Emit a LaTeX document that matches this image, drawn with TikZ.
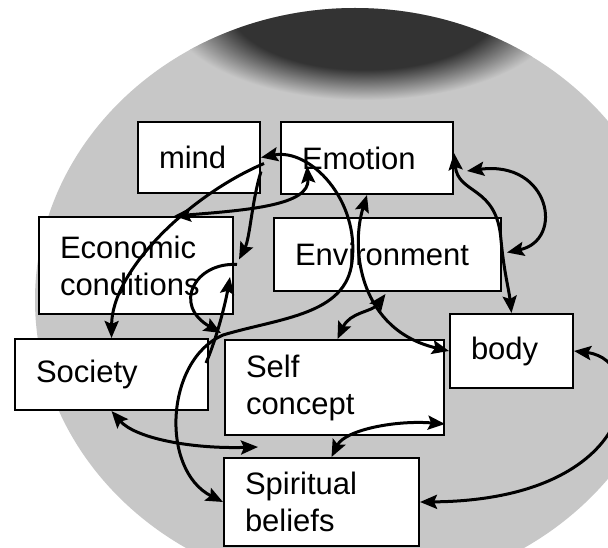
\documentclass[tikz,border=0pt]{standalone}
\usepackage{fontspec}
\setmainfont{Liberation Sans}
\usetikzlibrary{arrows.meta,calc}
\newcommand{\boxfont}{\fontsize{31}{37}\selectfont}
\colorlet{capdark}{black!80}
\colorlet{globegray}{black!22}
\pgfdeclareradialshading{cap}{\pgfpoint{0bp}{0bp}}{color(0bp)=(capdark); color(17bp)=(capdark); color(25bp)=(globegray); color(50bp)=(globegray)}

\begin{document}
\begin{tikzpicture}[x=1pt,y=-1pt,
  cbox/.style={draw,fill=white,line width=2pt,anchor=north west,inner xsep=21pt,inner ysep=0pt,align=left,font=\boxfont},
  link/.style={line width=3pt,>={Stealth[length=17pt,width=14pt,inset=3pt]}},
  globe/.style={fill=globegray}]
\useasboundingbox (0,0) rectangle (608,548);
% background globe
\begin{scope}
  \clip (0,0) rectangle (608,548);
  \fill[white] (0,0) rectangle (608,548);
  \fill[globe] (355,300) ellipse [x radius=320pt,y radius=292pt];
  \clip (355,300) ellipse [x radius=320pt,y radius=292pt];
  \shade[shading=cap] (365,5) ellipse [x radius=200pt,y radius=95pt];
\end{scope}

\node[cbox,text width=80pt,minimum width=122pt,minimum height=71pt] (mind) at (137,121) {mind};
\node[cbox,text width=130pt,minimum width=172pt,minimum height=72pt] (emo) at (280,121) {Emotion};
\node[cbox,text width=152pt,minimum width=194pt,minimum height=97pt] (econ) at (38,216) {Economic\\conditions};
\node[cbox,text width=185pt,minimum width=227pt,minimum height=73pt] (env) at (273,217) {Environment};
\node[cbox,text width=81pt,minimum width=123pt,minimum height=74pt] (body) at (449,313) {body};
\node[cbox,text width=151pt,minimum width=193pt,minimum height=71pt] (soc) at (14,338) {Society};
\node[cbox,text width=177pt,minimum width=219pt,minimum height=95pt] (self) at (224,339) {Self\\concept};
\node[cbox,text width=153pt,minimum width=195pt,minimum height=88pt] (spirit) at (223,457) {Spiritual\\beliefs};

\coordinate (sp-top) at ($(spirit.north west)+(35,-10)$);

\draw[link,<->] (body.east) .. controls (650,360) and (640,500) .. (spirit.east);
\draw[link,<->] ($(self.south east)+(0,-12)$) .. controls (395,420) and (345,430) .. ($(spirit.north)+(10,0)$);
\draw[link,<->] (soc.south) .. controls (135,438) and (190,449) .. (sp-top);
\draw[link,<->] (mind.east) .. controls (310,148) and (360,200) .. (352,262)
  .. controls (346,315) and (280,318) .. (223,335)
  .. controls (165,360) and (160,470) .. (spirit.west);
\draw[link,<->] ($(econ.north)+(38,0)$) .. controls (250,210) and (310,205) .. ($(emo.west)+(27,8)$);
\draw[link,->] ($(mind.east)+(3,6)$) .. controls (190,195) and (112,270) .. (soc.north);
\draw[link,->] ($(mind.east)+(0,14)$) .. controls (252,200) and (250,238) .. ($(econ.east)+(5,-6)$);
\draw[link,->] ($(econ.east)+(3,-1)$) .. controls (195,262) and (172,305) .. ($(self.north west)+(-3,-6)$);
\draw[link,->] ($(soc.north east)+(-3,25)$) .. controls (218,335) and (226,300) .. ($(econ.south east)+(-4,-38)$);
\draw[link,<->] (emo.south) .. controls (350,250) and (360,330) .. (body.west);
\draw[link,<->] ($(env.south)+(-2,2)$) .. controls (372,312) and (350,312) .. ($(self.north)+(3,0)$);
\draw[link,<->] ($(emo.east)+(0,-5)$) .. controls (458,195) and (497,185) .. (501,240)
  .. controls (504,272) and (509,290) .. (body.north);
\draw[link,<->] ($(emo.east)+(13,13)$) .. controls (550,160) and (565,240) .. ($(env.east)+(5,-2)$);
\end{tikzpicture}
\end{document}
